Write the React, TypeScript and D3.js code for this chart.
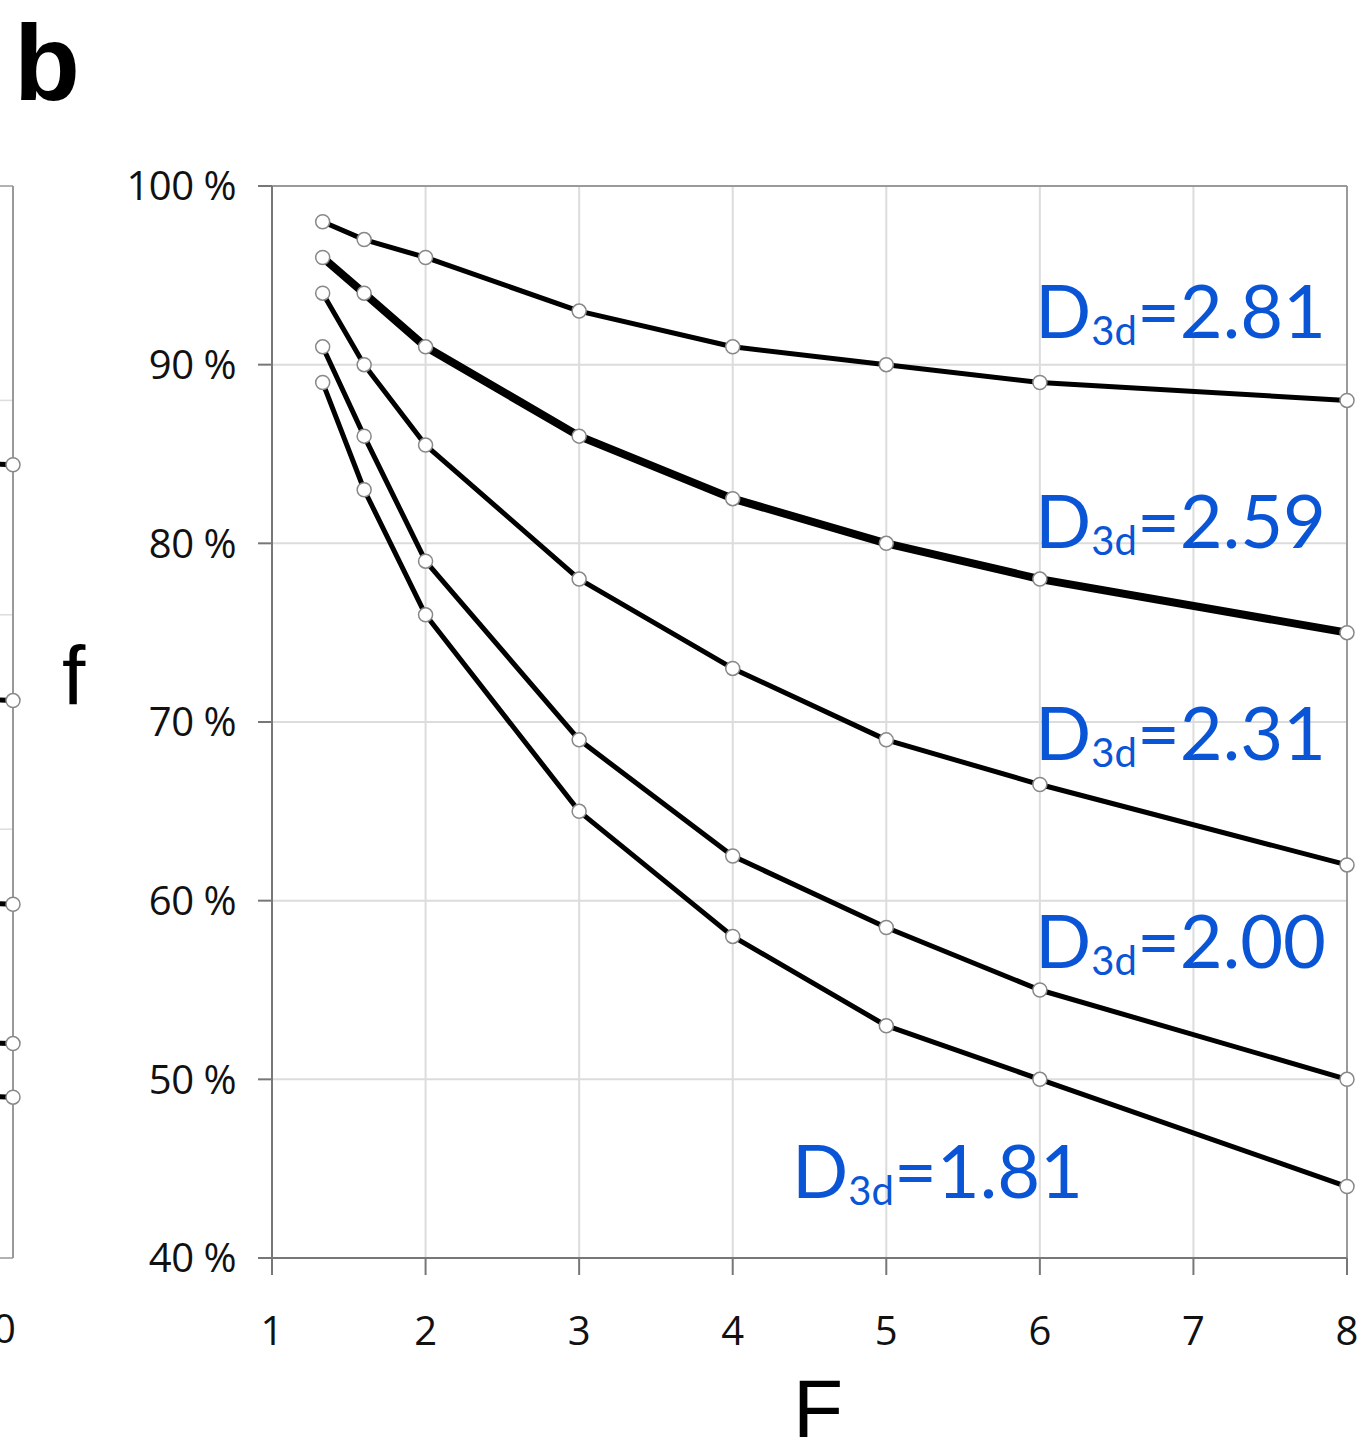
import React from "react";
import * as d3 from "d3";

// Flow ratio F (x) for every curve
const F_VALUES = [1.33, 1.6, 2, 3, 4, 5, 6, 8];

// Fraction f (%) for each fractal dimension D3d
const F_281 = [98, 97, 96, 93, 91, 90, 89, 88];
const F_259 = [96, 94, 91, 86, 82.5, 80, 78, 75];
const F_231 = [94, 90, 85.5, 78, 73, 69, 66.5, 62];
const F_200 = [91, 86, 79, 69, 62.5, 58.5, 55, 50];
const F_181 = [89, 83, 76, 65, 58, 53, 50, 44];

const SERIES_NAMES = ["2.81", "2.59", "2.31", "2.00", "1.81"];
const SERIES_VALUES = [F_281, F_259, F_231, F_200, F_181];

const X_TICKS = [1, 2, 3, 4, 5, 6, 7, 8];
const Y_TICKS = [40, 50, 60, 70, 80, 90, 100];

// Neighbouring panel (a), only its right edge shows
const LEFT_LAST = [74, 52, 33, 20, 15];
const LEFT_PREV = [74.6, 52.6, 33.6, 20.4, 15.4];
const LEFT_TICKS = [0, 20, 40, 60, 80, 100];

const W = 1370;
const H = 1454;
const PLOT = { left: 272, right: 1347, top: 186, bottom: 1258 };
const LABEL_POS = [
  { x: 1035, y: 338 },
  { x: 1035, y: 548 },
  { x: 1035, y: 760 },
  { x: 1035, y: 968 },
  { x: 792, y: 1198 },
];

const TICK_FONT = "'Open Sans', 'Noto Sans', sans-serif";
const LABEL_FONT = "Lato, 'Noto Sans', sans-serif";
const BLUE = "#0a55d6";

export default function App() {
  const x = d3.scaleLinear().domain([1, 8]).range([PLOT.left, PLOT.right]);
  const y = d3.scaleLinear().domain([40, 100]).range([PLOT.bottom, PLOT.top]);

  const line = d3
    .line<[number, number]>()
    .x((d) => x(d[0]))
    .y((d) => y(d[1]));

  // scales for the clipped neighbouring panel
  const xl = d3.scaleLinear().domain([9, 10]).range([-140, 13]);
  const yl = d3.scaleLinear().domain([0, 100]).range([PLOT.bottom, PLOT.top]);

  return (
    <svg
      width={W}
      height={H}
      style={{ position: "absolute", left: 0, top: 0, background: "#fff" }}
    >
      <rect x={0} y={0} width={W} height={H} fill="#fff" />

      {/* panel a edge */}
      {LEFT_TICKS.map((t) => (
        <line
          key={"lg" + t}
          x1={0}
          x2={xl(10)}
          y1={yl(t)}
          y2={yl(t)}
          stroke={t === 0 || t === 100 ? "#999" : "#ddd"}
          strokeWidth={1.5}
        />
      ))}
      <line x1={xl(10)} x2={xl(10)} y1={yl(100)} y2={yl(0)} stroke="#999" strokeWidth={2} />
      {LEFT_LAST.map((v, i) => (
        <line
          key={"ls" + i}
          x1={xl(9)}
          x2={xl(10)}
          y1={yl(LEFT_PREV[i])}
          y2={yl(v)}
          stroke="#000"
          strokeWidth={5}
        />
      ))}
      {LEFT_LAST.map((v, i) => (
        <circle key={"lc" + i} cx={xl(10)} cy={yl(v)} r={7} fill="#fff" stroke="#888" strokeWidth={1.5} />
      ))}
      <text x={xl(10)} y={1343} textAnchor="middle" fontFamily={TICK_FONT} fontSize={40} fill="#111" dx={-20}>
        10
      </text>

      {/* grid */}
      {X_TICKS.slice(1).map((t) => (
        <line key={"gx" + t} x1={x(t)} x2={x(t)} y1={PLOT.top} y2={PLOT.bottom} stroke="#dcdcdc" strokeWidth={2} />
      ))}
      {Y_TICKS.slice(1).map((t) => (
        <line
          key={"gy" + t}
          x1={PLOT.left}
          x2={PLOT.right}
          y1={y(t)}
          y2={y(t)}
          stroke={t === 100 ? "#9a9a9a" : "#dcdcdc"}
          strokeWidth={2}
        />
      ))}
      <line x1={PLOT.right} x2={PLOT.right} y1={PLOT.top} y2={PLOT.bottom} stroke="#9a9a9a" strokeWidth={2} />

      {/* axes */}
      <line x1={PLOT.left} x2={PLOT.left} y1={PLOT.top} y2={PLOT.bottom + 17} stroke="#777" strokeWidth={2} />
      <line x1={PLOT.left - 14} x2={PLOT.right} y1={PLOT.bottom} y2={PLOT.bottom} stroke="#777" strokeWidth={2} />
      {Y_TICKS.map((t) => (
        <g key={"yt" + t}>
          <line x1={PLOT.left - 14} x2={PLOT.left} y1={y(t)} y2={y(t)} stroke="#777" strokeWidth={2} />
          <text
            x={236}
            y={y(t)}
            dy="0.36em"
            textAnchor="end"
            fontFamily={TICK_FONT}
            fontSize={40}
            fill="#111"
            letterSpacing={-0.5}
          >
            {t} %
          </text>
        </g>
      ))}
      {X_TICKS.map((t) => (
        <g key={"xt" + t}>
          <line x1={x(t)} x2={x(t)} y1={PLOT.bottom} y2={PLOT.bottom + 17} stroke="#777" strokeWidth={2} />
          <text x={x(t)} y={1345} textAnchor="middle" fontFamily={TICK_FONT} fontSize={40} fill="#111">
            {t}
          </text>
        </g>
      ))}

      {/* curves */}
      {SERIES_VALUES.map((vals, si) => (
        <path
          key={"p" + si}
          d={line(F_VALUES.map((fv, i) => [fv, vals[i]] as [number, number])) || ""}
          fill="none"
          stroke="#000"
          strokeWidth={SERIES_NAMES[si] === "2.59" ? 8 : 5}
          strokeLinejoin="round"
        />
      ))}
      {SERIES_VALUES.map((vals, si) =>
        F_VALUES.map((fv, i) => (
          <circle
            key={"c" + si + "-" + i}
            cx={x(fv)}
            cy={y(vals[i])}
            r={7}
            fill="#fff"
            stroke="#888"
            strokeWidth={1.5}
          />
        ))
      )}

      {/* series labels */}
      {SERIES_NAMES.map((name, i) => (
        <text
          key={"lab" + name}
          x={LABEL_POS[i].x}
          y={LABEL_POS[i].y}
          fontFamily={LABEL_FONT}
          fontSize={74}
          fill={BLUE}
        >
          D
          <tspan fontSize={40} dy={7}>
            3d
          </tspan>
          <tspan dy={-7}>={name}</tspan>
        </text>
      ))}

      {/* titles */}
      <text x={14} y={100} fontFamily="'Liberation Sans', Arial, sans-serif" fontWeight="bold" fontSize={108} fill="#000">
        b
      </text>
      <text x={62} y={705} fontFamily="'Liberation Sans', Arial, sans-serif" fontSize={84} fill="#000">
        f
      </text>
      <text x={818} y={1437} textAnchor="middle" fontFamily="'Liberation Sans', Arial, sans-serif" fontSize={82} fill="#000">
        F
      </text>
    </svg>
  );
}
